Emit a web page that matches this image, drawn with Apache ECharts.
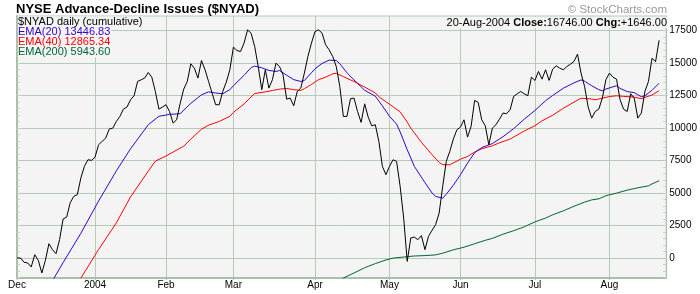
<!DOCTYPE html>
<html>
<head>
<meta charset="utf-8">
<script src="https://cdn.jsdelivr.net/npm/echarts@6/dist/echarts.min.js"></script>
<style>html,body{margin:0;padding:0;background:#fff}#c{width:700px;height:294px}</style>
</head>
<body>
<div id="c"></div>
<script>
// Trading days Dec 1 2003 - Aug 20 2004 (weekdays minus NYSE holidays)
var startDate = '2003-12-01';
var endDate = '2004-08-20';
var holidays = ['2003-12-25','2004-01-01','2004-01-19','2004-02-16','2004-04-09','2004-05-31','2004-06-11','2004-07-05'];
var monthLabels = ['Dec','2004','Feb','Mar','Apr','May','Jun','Jul','Aug'];
var yTickLabels = [0, 2500, 5000, 7500, 10000, 12500, 15000, 17500];
var yMinorTicks = [-1500,-1000,-500,0,500,1000,1500,2000,2500,3000,3500,4000,4500,5000,5500,6000,6500,7000,7500,8000,8500,9000,9500,10000,10500,11000,11500,12000,12500,13000,13500,14000,14500,15000,15500,16000,16500,17000,17500,18000,18500];

// $NYAD cumulative close, one value per trading day
var nyad = [
0,0,-330,-380,-690,250,-180,-1150,-180,1100,640,330,1410,3000,3150,4250,4740,4870,6150,7050,7560,7510,
7760,8710,8970,9220,9920,9990,10500,10890,11450,11610,12170,12480,13580,13710,13840,14270,13910,12810,11450,11610,
11790,11270,10380,10630,11900,12990,13580,14940,14600,13840,15190,14480,13580,12680,11790,11790,12810,13530,14480,
16220,15960,15880,16530,17550,17290,16270,14730,12940,14480,13070,13710,14990,14730,14090,12220,12300,11710,12810,13070,14220,15500,16530,
17420,17550,17290,16400,16010,15500,14730,13190,10890,10890,12250,12300,11270,10430,11860,10840,10170,10250,8970,
7050,6410,7050,7560,7430,5510,3070,-260,1540,1610,1410,1720,640,1670,2130,2560,3460,5510,7430,8200,
9150,9860,10070,10630,9300,10120,12120,11970,10630,10170,8710,9990,10250,10680,11150,11100,11400,12430,12630,12810,12630,12480,13910,
13660,14350,13760,14480,13660,14530,14780,14600,14480,14730,14910,15120,15680,14220,13190,11610,10760,11270,11450,12300,13710,
14220,13910,13760,12170,11450,11270,12630,12300,10760,11150,12810,13580,15370,15100,16746
];

// EMA lines as [day index, value]
var ema20 = [[10,-1750],[13,-350],[18,1900],[23,4380],[28,6700],[32,8400],[37,10250],[40,10900],[43,11050],[46,11100],[49,11900],[52,12550],[54,12780],[56,12690],[58,12630],[60,12950],[61,13250],[64,14050],[66,14650],[67,14760],[69,14630],[71,14430],[73,14350],[74,14420],[76,14060],[78,13720],[80,13580],[81,13650],[83,14250],[84,14550],[86,14970],[88,15220],[90,15190],[91,14950],[93,14250],[95,13700],[98,12900],[101,12450],[103,11700],[105,10900],[107,10300],[108,9700],[110,8330],[112,7050],[115,5800],[117,5000],[118,4740],[120,4600],[121,4900],[123,5600],[125,6400],[127,7300],[129,8100],[131,8500],[134,8800],[137,9330],[140,9950],[143,10680],[146,11350],[149,12100],[151,12500],[154,13060],[157,13470],[159,13700],[160,13600],[162,13250],[164,12950],[165,12860],[166,12990],[168,13170],[169,13250],[170,13050],[172,12800],[174,12720],[175,12560],[176,12400],[177,12480],[179,12900],[181,13446.83]];
var ema40 = [[18,-1550],[23,650],[28,2700],[32,4700],[37,6680],[39,7450],[42,7850],[44,8150],[47,8600],[49,9150],[52,9900],[54,10220],[57,10500],[60,10900],[61,11200],[64,11850],[66,12400],[67,12650],[70,12780],[72,12880],[74,12990],[76,13040],[78,12950],[80,12890],[81,13020],[83,13350],[85,13720],[87,13910],[89,14170],[90,14210],[92,13950],[94,13700],[95,13580],[98,13150],[101,12700],[102,12400],[105,11830],[108,11250],[110,10450],[111,9990],[114,8900],[117,7950],[119,7350],[120,7180],[122,7170],[125,7600],[127,7810],[129,8150],[131,8400],[134,8630],[136,8860],[139,9150],[140,9300],[143,9770],[146,10180],[148,10550],[151,10980],[154,11520],[157,11990],[159,12290],[162,12230],[163,12170],[165,12290],[167,12420],[169,12480],[171,12430],[174,12374],[176,12250],[177,12350],[179,12540],[181,12865.34]];
var ema200 = [[90,-1900],[92,-1540],[95,-1150],[98,-750],[101,-430],[104,-150],[106,-10],[109,75],[112,155],[115,185],[118,240],[120,370],[123,630],[126,830],[129,1100],[132,1360],[134,1510],[137,1830],[140,2100],[143,2400],[146,2780],[149,3070],[151,3320],[154,3630],[157,3980],[160,4300],[162,4470],[164,4550],[166,4790],[169,4990],[172,5220],[175,5400],[178,5550],[179,5700],[181,5943.60]];

// build category list
function pad(n){return (n<10?'0':'')+n;}
var dates = [];
var d = new Date(startDate + 'T12:00:00Z');
var end = new Date(endDate + 'T12:00:00Z');
while (d <= end) {
  var s = d.getUTCFullYear() + '-' + pad(d.getUTCMonth()+1) + '-' + pad(d.getUTCDate());
  var wd = d.getUTCDay();
  if (wd !== 0 && wd !== 6 && holidays.indexOf(s) < 0) dates.push(s);
  d = new Date(d.getTime() + 86400000);
}
var categories = dates.concat(['', '']);
var monthStart = {};
var mi = 0;
for (var i = 0; i < dates.length; i++) {
  if (i === 0 || dates[i].slice(5,7) !== dates[i-1].slice(5,7)) { monthStart[i] = monthLabels[mi++]; }
}
function isMonthStart(idx){ return monthStart.hasOwnProperty(idx); }

var gridCol = '#b5cbb5';
var axisCol = '#a9c1a9';
var font = 'Liberation Sans, Arial, sans-serif';
var bg = '#f4f4f4';

var chart = echarts.init(document.getElementById('c'));
chart.setOption({
  animation: false,
  backgroundColor: '#ffffff',
  title: [
    {text: 'NYSE Advance-Decline Issues ($NYAD)', left: 16, top: 2, padding: 0,
     textStyle: {fontFamily: font, fontSize: 13, fontWeight: 'bold', color: '#000', lineHeight: 14}},
    {text: '\u00a9 StockCharts.com', right: 33, top: 3, padding: 0,
     textStyle: {fontFamily: font, fontSize: 11.5, fontWeight: 'normal', color: '#9a9a9a', lineHeight: 13}},
    {text: '$NYAD daily (cumulative)', left: 18, top: 17, padding: [0,1,0,0], backgroundColor: bg,
     textStyle: {fontFamily: font, fontSize: 11, fontWeight: 'normal', color: '#000', lineHeight: 10}},
    {text: 'EMA(20) 13446.83', left: 18, top: 27, padding: [0,1,0,0], backgroundColor: bg,
     textStyle: {fontFamily: font, fontSize: 11, fontWeight: 'normal', color: '#3300cc', lineHeight: 10}},
    {text: 'EMA(40) 12865.34', left: 18, top: 37, padding: [0,1,0,0], backgroundColor: bg,
     textStyle: {fontFamily: font, fontSize: 11, fontWeight: 'normal', color: '#ff0000', lineHeight: 10}},
    {text: 'EMA(200) 5943.60', left: 18, top: 47, padding: [0,1,0,0], backgroundColor: bg,
     textStyle: {fontFamily: font, fontSize: 11, fontWeight: 'normal', color: '#006633', lineHeight: 10}},
    {text: '{n|20-Aug-2004 }{b|Close:}{n|16746.00 }{b|Chg:}{n|+1646.00}', right: 33, top: 17, padding: [0,0,0,1], backgroundColor: bg,
     textStyle: {fontFamily: font, fontSize: 11, color: '#000', lineHeight: 11,
       rich: {n: {fontFamily: font, fontSize: 11, fontWeight: 'normal', color: '#000', lineHeight: 11},
              b: {fontFamily: font, fontSize: 11, fontWeight: 'bold', color: '#000', lineHeight: 11}}}}
  ],
  grid: {left: 17, right: 31, top: 16, bottom: 16, show: true, backgroundColor: bg, borderColor: gridCol, borderWidth: 1, containLabel: false},
  xAxis: {
    type: 'category', data: categories, boundaryGap: false,
    axisLine: {show: true, onZero: false, lineStyle: {color: axisCol, width: 2}},
    axisTick: {show: true, length: 2, interval: function(idx){return isMonthStart(idx);}, lineStyle: {color: axisCol}},
    axisLabel: {interval: function(idx){return isMonthStart(idx);}, formatter: function(v, idx){return monthStart[idx] || '';},
      fontFamily: font, fontSize: 10, color: '#000', margin: 2},
    splitLine: {show: true, interval: function(idx){return isMonthStart(idx);}, lineStyle: {color: gridCol, width: 1}}
  },
  yAxis: [
    {type: 'value', position: 'right', min: -1538, max: 18615,
     axisLine: {show: true, onZero: false, lineStyle: {color: axisCol, width: 1}},
     axisTick: {show: true, inside: true, length: 3, customValues: yTickLabels, lineStyle: {color: axisCol}},
     axisLabel: {show: true, customValues: yTickLabels, formatter: function(v){return String(v);}, fontFamily: font, fontSize: 10, color: '#000', margin: 3},
     splitLine: {show: true, lineStyle: {color: gridCol, width: 1}}},
    {type: 'value', position: 'left', min: -1538, max: 18615,
     axisLine: {show: true, onZero: false, lineStyle: {color: axisCol, width: 2}},
     axisTick: {show: true, inside: true, length: 3, customValues: yMinorTicks, lineStyle: {color: '#c4d2c4'}},
     axisLabel: {show: false}, splitLine: {show: false}},
    {type: 'value', position: 'right', min: -1538, max: 18615,
     axisLine: {show: false, onZero: false},
     axisTick: {show: true, inside: true, length: 3, customValues: yMinorTicks, lineStyle: {color: '#c4d2c4'}},
     axisLabel: {show: false}, splitLine: {show: false}}
  ],
  series: [
    {type: 'line', name: 'EMA(200)', data: ema200, symbol: 'none', lineStyle: {color: '#006633', width: 1}, z: 3},
    {type: 'line', name: 'EMA(40)', data: ema40, symbol: 'none', lineStyle: {color: '#ff0000', width: 1}, z: 3},
    {type: 'line', name: 'EMA(20)', data: ema20, symbol: 'none', lineStyle: {color: '#3300cc', width: 1}, z: 3},
    {type: 'line', name: '$NYAD', data: nyad, symbol: 'none', lineStyle: {color: '#000000', width: 1}, z: 4}
  ]
});
</script>
</body>
</html>
